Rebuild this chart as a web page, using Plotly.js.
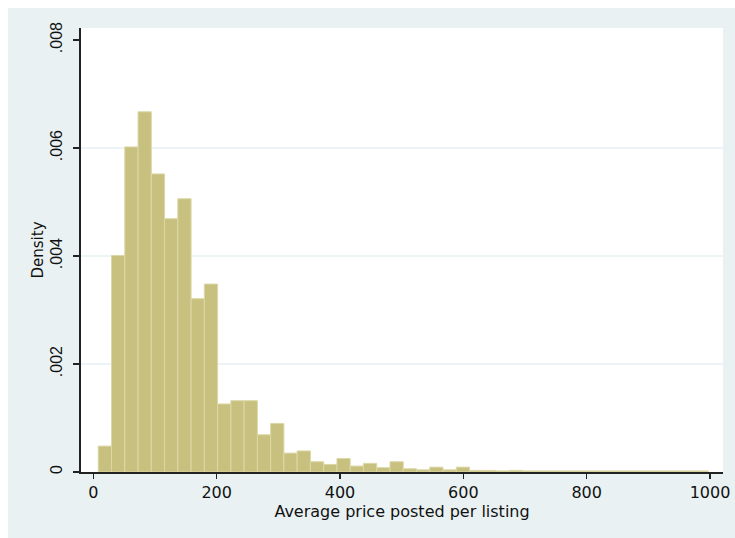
<!DOCTYPE html>
<html>
<head>
<meta charset="utf-8">
<script src="https://cdn.plot.ly/plotly-3.0.1.min.js"></script>
<style>
  html, body { margin: 0; padding: 0; background: #ffffff; }
  #chart { position: absolute; left: 8px; top: 8px; width: 727px; height: 530px; }
</style>
</head>
<body>
<div id="chart"></div>
<script>
// Histogram of average price posted per listing (Stata-style density histogram)
const binStart = 8;
const binWidth = 21.5;
const density = [
  0.00048, 0.00401, 0.00602, 0.00667, 0.00552, 0.00469, 0.00506, 0.00321,
  0.00348, 0.00126, 0.00132, 0.00132, 0.00069, 0.00090, 0.00035, 0.00039,
  0.00019, 0.00014, 0.00025, 0.00011, 0.00016, 0.00008, 0.00019, 0.00006,
  0.00004, 0.00009, 0.00004, 0.00009, 0.00003, 0.00003, 0.00002, 0.00003,
  0.00002, 0.00002, 0.00002, 0.00002, 0.00002, 0.00002, 0.00002, 0.00002,
  0.00002, 0.00002, 0.00002, 0.00002, 0.00002, 0.00002
];
const xTickVals = [0, 200, 400, 600, 800, 1000];
const xTickText = ["0", "200", "400", "600", "800", "1000"];
const yTickVals = [0, 0.002, 0.004, 0.006, 0.008];
const yTickText = ["0", ".002", ".004", ".006", ".008"];
const gridVals = [0.002, 0.004, 0.006];

const centers = density.map((_, i) => binStart + binWidth * (i + 0.5));

const trace = {
  type: 'bar',
  x: centers,
  y: density,
  width: binWidth,
  marker: { color: '#c8c07e', line: { color: '#dcd7a6', width: 1 } },
  hoverinfo: 'x+y'
};

const font = "DejaVu Sans, Liberation Sans, Arial, sans-serif";

const layout = {
  width: 727,
  height: 530,
  margin: { l: 73, r: 12, t: 20, b: 66 },
  paper_bgcolor: '#e9f1f3',
  plot_bgcolor: '#ffffff',
  showlegend: false,
  bargap: 0,
  xaxis: {
    range: [-20, 1021],
    tickvals: xTickVals,
    ticktext: xTickText,
    ticks: 'outside',
    ticklen: 5,
    tickwidth: 1.5,
    tickcolor: '#222',
    showline: true,
    linecolor: '#222',
    linewidth: 2,
    showgrid: false,
    zeroline: false,
    tickfont: { family: font, size: 16, color: '#111' },
    title: { text: 'Average price posted per listing', font: { family: font, size: 16, color: '#111' }, standoff: 4 }
  },
  yaxis: {
    range: [0, 0.008222],
    tickvals: yTickVals,
    ticktext: yTickText,
    tickangle: -90,
    ticks: 'outside',
    ticklen: 6,
    tickwidth: 1.5,
    tickcolor: '#222',
    showline: true,
    linecolor: '#222',
    linewidth: 2,
    showgrid: false,
    zeroline: false,
    ticklabelstandoff: 5,
    tickfont: { family: "Liberation Sans, Arial, sans-serif", size: 16, color: '#111' },
    title: { text: 'Density', font: { family: font, size: 15, color: '#111' }, standoff: 0 }
  },
  shapes: gridVals.map(v => ({
    type: 'line', xref: 'paper', yref: 'y', x0: 0, x1: 1, y0: v, y1: v,
    line: { color: '#e6f0f2', width: 1.5 }, layer: 'below'
  }))
};

Plotly.newPlot('chart', [trace], layout, { displayModeBar: false, staticPlot: true });
</script>
</body>
</html>
